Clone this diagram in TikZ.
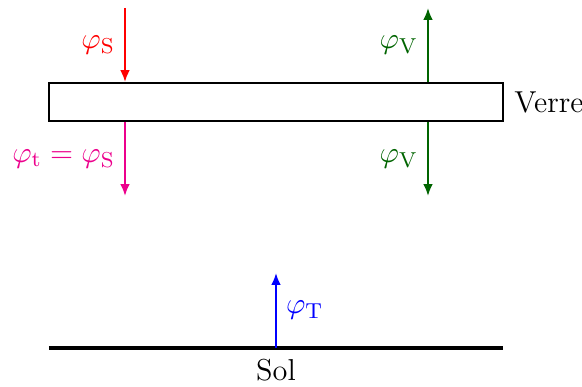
\documentclass[tikz,border=0pt]{standalone}
\usepackage{amsmath,amssymb}
\usepackage{xcolor}
\usepackage{tikz}
\usetikzlibrary{arrows.meta,positioning,calc}
\definecolor{Rose}{HTML}{EC008C}
\definecolor{DarkGreen}{HTML}{006400}
\tikzset{
  verrebox/.style={draw=black,thick,minimum width=5.90cm,minimum height=0.49cm,
              inner sep=0pt},
  fluxS/.style={-{Latex[length=4.4pt,width=3.6pt]},thick,draw=red},
  fluxt/.style={-{Latex[length=4.4pt,width=3.6pt]},thick,draw=Rose},
  fluxV/.style={-{Latex[length=4.4pt,width=3.6pt]},thick,draw=DarkGreen},
  fluxT/.style={-{Latex[length=4.4pt,width=3.6pt]},thick,draw=blue},
  sol/.style={very thick,draw=black},
  lbl/.style={font=\fontsize{11.2}{13}\selectfont}
}
\begin{document}
\begin{tikzpicture}
  \useasboundingbox (0,0) rectangle (7.566,5.031);
  % la vitre et le sol
  \node[verrebox] (verre) at (3.588,3.705) {};
  \node[lbl,right=0.1mm of verre] (nomverre) {Verre};
  \coordinate (solg) at (0.637,0.507);
  \coordinate (sold) at (6.539,0.507);
  \coordinate (solm) at (3.588,0.507);
  \draw[sol] (solg) -- (sold);
  \node[lbl,below=0.2mm of solm] (nomsol) {Sol};
  % extremites libres des fleches
  \coordinate (hautS) at (1.625,4.927);
  \coordinate (basS) at (1.625,2.483);
  \coordinate (hautV) at (5.564,4.927);
  \coordinate (basV) at (5.564,2.483);
  \coordinate (hautT) at (3.588,1.482);
  % flux
  \draw[fluxS] (hautS) -- node[lbl,left,text=red]{$\varphi_{\mathrm{S}}$} (hautS |- verre.north);
  \draw[fluxt] (basS |- verre.south) -- node[lbl,left,text=Rose]{$\varphi_{\mathrm{t}}=\varphi_{\mathrm{S}}$} (basS);
  \draw[fluxV] (hautV |- verre.north) -- node[lbl,left,text=DarkGreen]{$\varphi_{\mathrm{V}}$} (hautV);
  \draw[fluxV] (basV |- verre.south) -- node[lbl,left,text=DarkGreen]{$\varphi_{\mathrm{V}}$} (basV);
  \draw[fluxT] (solm) -- node[lbl,right,text=blue]{$\varphi_{\mathrm{T}}$} (hautT);
\end{tikzpicture}
\end{document}
